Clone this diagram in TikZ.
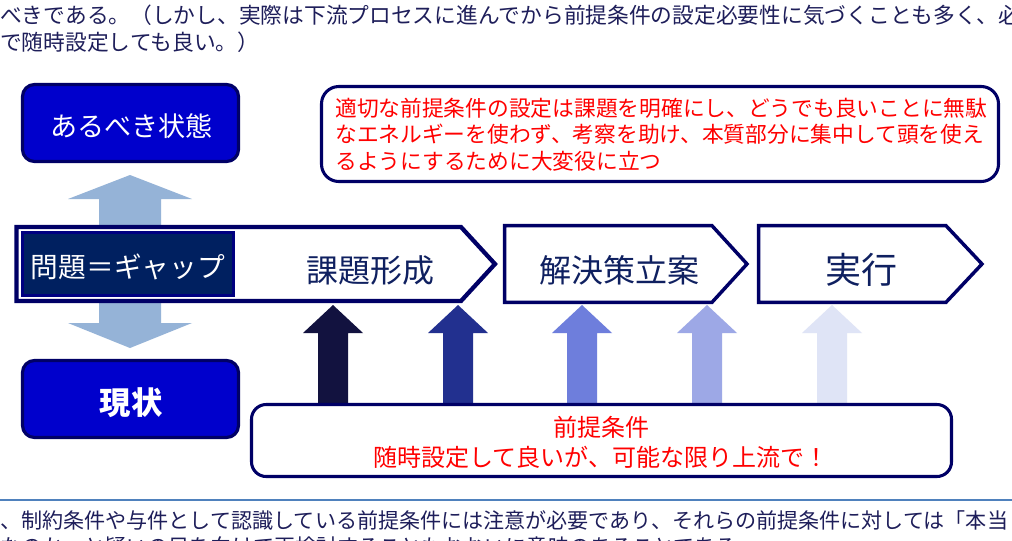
\documentclass[tikz,border=0pt]{standalone}
\usepackage{fontspec}
\newfontfamily\jp{Noto Sans CJK JP}
\definecolor{navyb}{HTML}{000066}
\definecolor{boxblue}{HTML}{0000CC}
\definecolor{gapfill}{HTML}{002060}
\definecolor{gapborder}{HTML}{000080}
\definecolor{ltarrow}{HTML}{95B3D7}
\definecolor{txtnavy}{HTML}{0F2060}
\definecolor{aone}{HTML}{12123F}
\definecolor{atwo}{HTML}{22308F}
\definecolor{athree}{HTML}{6E7EDC}
\definecolor{afour}{HTML}{9DA8E6}
\definecolor{afive}{HTML}{DFE4F6}
\definecolor{rulecol}{HTML}{4F81BD}
\definecolor{bodytxt}{HTML}{1E1E5A}
\definecolor{redtxt}{HTML}{FF0000}
\begin{document}
\begin{tikzpicture}[x=0.75pt,y=-0.75pt,
  statebox/.style={draw=navyb, line width=2.4pt, fill=boxblue, rounded corners=9pt,
    minimum width=162pt, minimum height=57.75pt, inner sep=0pt},
  statetext/.style={text=white, inner sep=0pt, font=\jp\fontsize{20.3}{24}\selectfont},
  pentagon/.style={draw=navyb, line width=2.6pt, fill=white, line join=miter},
  steptext/.style={text=txtnavy, inner sep=0pt, font=\jp\fontsize{24}{28}\selectfont},
  callout/.style={draw=navyb, line width=2.3pt, fill=white, rounded corners=11pt, inner sep=0pt},
  redtext/.style={text=redtxt, inner sep=0pt},
  bodytext/.style={text=bodytxt, inner sep=0pt, anchor=west},
]
\useasboundingbox (0,0) rectangle (1012,540);
\clip (0,0) rectangle (1012,540);
\fill[white] (0,0) rectangle (1012,540);

% page text above and below
\node[bodytext, font=\jp\fontsize{16.3}{20}\selectfont] (pt1) at (0,15) {べきである。（しかし、実際は下流プロセスに進んでから前提条件の設定必要性に気づくことも多く、必};
\node[bodytext, font=\jp\fontsize{16.3}{20}\selectfont] (pt2) at (0,42) {で随時設定しても良い。）};
\draw[rulecol, line width=0.9pt] (0,500) -- (1012,500);
\node[bodytext, font=\jp\fontsize{15.8}{20}\selectfont] (pb1) at (0,520) {、制約条件や与件として認識している前提条件には注意が必要であり、それらの前提条件に対しては「本当};
\node[bodytext, font=\jp\fontsize{15.8}{20}\selectfont] (pb2) at (0,547) {なのか」と疑いの目を向けて再検討することもおおいに意味のあることである。};

% light blue arrows
\fill[ltarrow] (99,245) -- (99,199) -- (68,199) -- (130,175) -- (192,199) -- (161,199) -- (161,245) -- cycle;
\fill[ltarrow] (99,285) -- (161,285) -- (161,323) -- (192,323) -- (130,348) -- (68,323) -- (99,323) -- cycle;

% five up arrows
\foreach \cx/\col in {333/aone, 458/atwo, 582/athree, 707/afour, 832/afive}{
  \fill[\col] (\cx-15,415) -- (\cx-15,333) -- (\cx-30,333) -- (\cx,305) -- (\cx+30,333) -- (\cx+15,333) -- (\cx+15,415) -- cycle;
}

% state boxes
\node[statebox] (ideal) at (130.5,123) {};
\node[statetext] (idealtxt) at (131.5,126) {あるべき状態};
\node[statebox] (now) at (130.5,399) {};
\node[statetext, font=\jp\bfseries\fontsize{23.5}{27}\selectfont] (nowtxt) at (131,403) {現状};

% process pentagons
\draw[pentagon, line width=3.2pt] (16.5,227) -- (461,227) -- (495,264) -- (461,301) -- (16.5,301) -- cycle;
\draw[pentagon] (504.7,225.7) -- (712,225.7) -- (747,264) -- (712,302.3) -- (504.7,302.3) -- cycle;
\draw[pentagon] (758.7,225.7) -- (946,225.7) -- (982,264) -- (946,302.3) -- (758.7,302.3) -- cycle;

\node[draw=gapborder, line width=2.4pt, fill=gapfill, minimum width=158.25pt, minimum height=47.25pt, inner sep=0pt] (gap) at (127.8,263.9) {};
\node[statetext, font=\jp\fontsize{20.8}{24}\selectfont] (gaptxt) at (128,267) {問題＝ギャップ};
\node[steptext] (s1) at (370,270) {課題形成};
\node[steptext] (s2) at (619,270) {解決策立案};
\node[steptext, font=\jp\fontsize{27}{30}\selectfont] (s3) at (861,270) {実行};

% callouts
\node[callout, rounded corners=13pt, minimum width=507.75pt, minimum height=71.25pt] (ctop) at (660,134) {};
\node[redtext, anchor=west, align=left, font=\jp\fontsize{16.3}{19.9}\selectfont] (ctoptxt) at (335,134.5)
  {適切な前提条件の設定は課題を明確にし、どうでも良いことに無駄\\なエネルギーを使わず、考察を助け、本質部分に集中して頭を使え\\るようにするために大変役に立つ};
\node[callout, minimum width=525pt, minimum height=54pt] (cbot) at (601.5,440.5) {};
\node[redtext, align=center, font=\jp\fontsize{18}{22.5}\selectfont] (cbottxt) at (601,442)
  {前提条件\\随時設定して良いが、可能な限り上流で！};
\end{tikzpicture}
\end{document}
